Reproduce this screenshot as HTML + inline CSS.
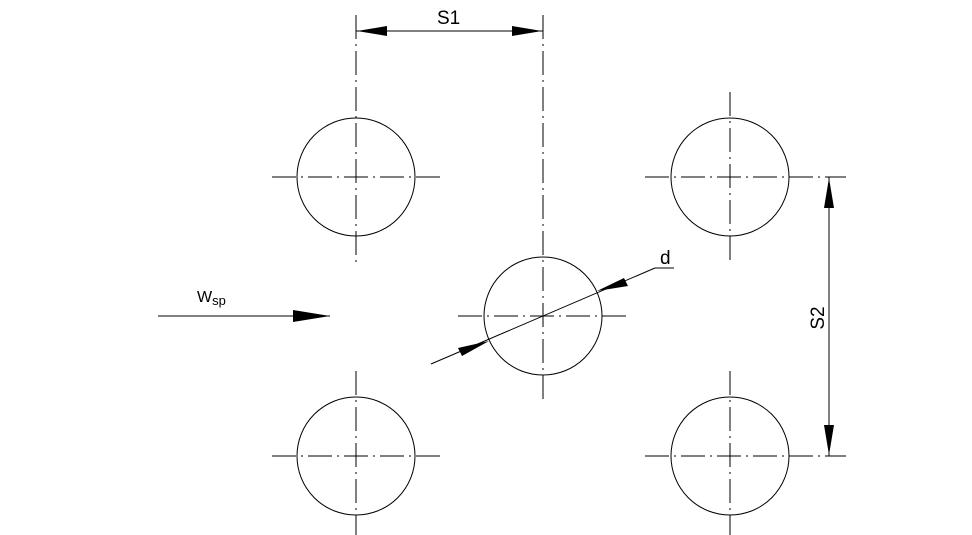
<!DOCTYPE html>
<html><head><style>html,body{margin:0;padding:0;background:#fff}svg{display:block}</style></head>
<body>
<svg width="972" height="535" viewBox="0 0 972 535" xmlns="http://www.w3.org/2000/svg">
<g fill="none" stroke="#000" stroke-width="1">
<circle cx="356" cy="177" r="59"/>
<circle cx="730" cy="177" r="59"/>
<circle cx="543" cy="316" r="59"/>
<circle cx="356" cy="456" r="59"/>
<circle cx="730" cy="456" r="59"/>
</g>
<g fill="none" stroke="#000" stroke-width="1" stroke-dasharray="24 5 2 5">
<line x1="356" y1="15" x2="356" y2="262"/>
<line x1="543" y1="15" x2="543" y2="401"/>
<line x1="730" y1="92" x2="730" y2="262"/>
<line x1="356" y1="371" x2="356" y2="535"/>
<line x1="730" y1="371" x2="730" y2="535"/>
<line x1="272" y1="177" x2="440" y2="177"/>
<line x1="645" y1="177" x2="846" y2="177"/>
<line x1="458" y1="316" x2="628" y2="316"/>
<line x1="272" y1="456" x2="440" y2="456"/>
<line x1="645" y1="456" x2="846" y2="456"/>
</g>
<g stroke="#000" stroke-width="1">
<line x1="356" y1="31" x2="543" y2="31"/>
<line x1="829" y1="177" x2="829" y2="456"/>
<line x1="158" y1="316" x2="330" y2="316"/>
<line x1="431" y1="364" x2="655" y2="268"/>
<line x1="655" y1="268" x2="674" y2="268"/>
</g>
<g fill="#000">
<polygon points="357,31 387,26 387,36"/>
<polygon points="542,31 512,26 512,36"/>
<polygon points="829,178 824,208 834,208"/>
<polygon points="829,455 824,425 834,425"/>
<polygon points="330,316 293,310 293,322"/>
<polygon points="489,341 458,348 462,356"/>
<polygon points="597,291 624,278 628,286"/>
</g>
<g font-family="Liberation Sans, sans-serif" fill="#000">
<text x="437" y="24" font-size="19">S1</text>
<text x="660" y="264" font-size="19">d</text>
<text x="197" y="302" font-size="16">W<tspan font-size="13" dy="3">sp</tspan></text>
<text transform="translate(824,318) rotate(-90)" font-size="19" text-anchor="middle">S2</text>
</g>
</svg>
</body></html>
